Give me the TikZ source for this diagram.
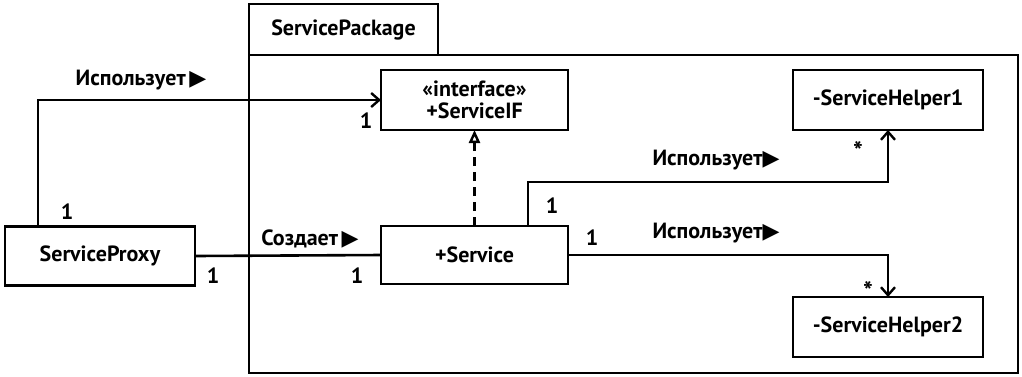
\documentclass[tikz,border=0pt]{standalone}
\usepackage{fontspec}
\setmainfont{PT Sans}
\newfontfamily\symfont{DejaVu Sans}
\usetikzlibrary{arrows.meta}
\newcommand{\dirmark}{{\symfont\fontsize{22}{22}\selectfont\char"25B6}}
\begin{document}
\begin{tikzpicture}[x=1pt,y=-1pt,
  font=\fontsize{22}{26}\selectfont\bfseries,
  every path/.style={line width=2.6pt},
  cls/.style={draw,rectangle,inner sep=0pt,outer sep=0pt,align=center},
  lbl/.style={inner sep=0pt},
  star/.style={lbl,font=\fontsize{26}{26}\selectfont\bfseries},
  assoc/.style={-{Straight Barb[length=8pt,width=14pt,line width=2.4pt]}},
  realize/.style={dashed,dash pattern=on 9pt off 6pt,
    -{Triangle[open,length=13pt,width=11pt,line width=2.4pt]}}]
  \useasboundingbox (0,0) rectangle (1022,376);

  % package frame with its tab
  \node[cls,minimum width=769,minimum height=318,anchor=north west] (pkgbody) at (249,55) {};
  \node[cls,minimum width=189,minimum height=51,anchor=south west] (pkgtab) at (249,55) {ServicePackage};

  % classes
  \node[cls,minimum width=187,minimum height=60] (iface) at (474.5,100)
    {«interface»\\[-4pt]+ServiceIF};
  \node[cls,minimum width=187,minimum height=58] (service) at (474.5,255) {+Service};
  \node[cls,minimum width=190,minimum height=60] (helperA) at (888,100) {-ServiceHelper1};
  \node[cls,minimum width=190,minimum height=60] (helperB) at (888,327) {-ServiceHelper2};
  \node[cls,minimum width=190,minimum height=59] (proxy) at (100,256) {ServiceProxy};

  % proxy uses the interface
  \draw[assoc] ([xshift=33pt]proxy.north west) |- (iface.west);
  \node[lbl] (uselblA) at (141,80) {Использует\,\dirmark};
  \node[lbl] (mpA) at (67,212) {1};
  \node[lbl] (mpB) at (366,121) {1};

  % proxy creates the service
  \draw (proxy.east) -- (service.west);
  \node[lbl] (crlbl) at (310,239) {Создает\,\dirmark};
  \node[lbl] (mpC) at (213,276) {1};
  \node[lbl] (mpD) at (357,276) {1};

  % realization of the interface
  \draw[realize] (service.north) -- (iface.south);

  % service uses helper 1
  \coordinate (bendA) at (528,182);
  \draw[assoc] ([xshift=53.5pt]service.north) -- (bendA) -| (helperA.south);
  \node[lbl] (uselblB) at (716,160) {Использует\dirmark};
  \node[lbl] (mpE) at (552,206) {1};
  \node[star] (mpF) at (858,151) {*};

  % service uses helper 2
  \draw[assoc] (service.east) -| (helperB.north);
  \node[lbl] (uselblC) at (716,233) {Использует\dirmark};
  \node[lbl] (mpG) at (592,238) {1};
  \node[star] (mpH) at (868,291) {*};
\end{tikzpicture}
\end{document}
